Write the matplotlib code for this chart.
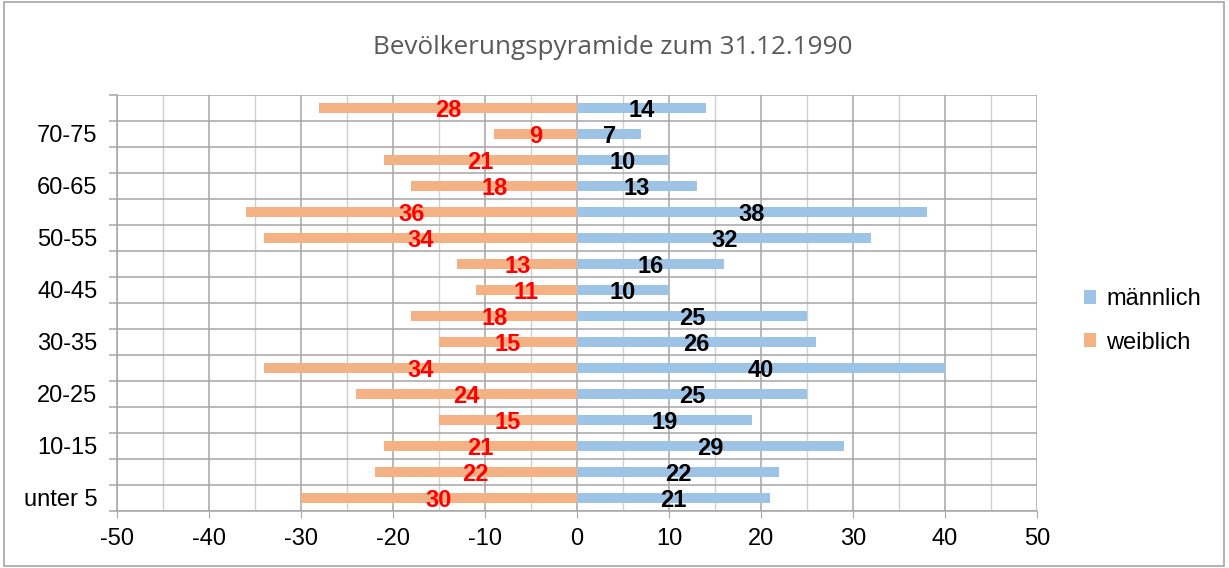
import numpy as np
import matplotlib.pyplot as plt
from matplotlib.patches import Rectangle

plt.rcParams['font.family'] = ['Liberation Sans', 'DejaVu Sans']
plt.rcParams['axes.unicode_minus'] = False

# Daten (von unten nach oben)
altersgruppen = ['unter 5', '5-10', '10-15', '15-20', '20-25', '25-30', '30-35', '35-40',
                 '40-45', '45-50', '50-55', '55-60', '60-65', '65-70', '70-75', '75 und älter']
maennlich = [21, 22, 29, 19, 25, 40, 26, 25, 10, 16, 32, 38, 13, 10, 7, 14]
weiblich = [30, 22, 21, 15, 24, 34, 15, 18, 11, 13, 34, 36, 18, 21, 9, 28]

blau = '#9DC3E6'
orange = '#F4B183'

fig = plt.figure(figsize=(12.29, 5.68), dpi=100)
ax = fig.add_axes([117 / 1229, 1 - 511 / 568, 920 / 1229, 416 / 568])

y = np.arange(len(altersgruppen))
w = -np.array(weiblich)
ax.barh(y, maennlich, height=0.4, color=blau, label='männlich', zorder=3)
ax.barh(y, w, height=0.4, color=orange, label='weiblich', zorder=3)

# Datenbeschriftungen in der Mitte der Balken
for i in range(len(y)):
    ax.text(maennlich[i] / 2, y[i] - 0.1, str(maennlich[i]), ha='center', va='center',
            fontsize=17, fontweight='bold', color='black', zorder=4)
    ax.text(w[i] / 2, y[i] - 0.1, str(weiblich[i]), ha='center', va='center',
            fontsize=17, fontweight='bold', color='red', zorder=4)

ax.set_xlim(-50, 50)
ax.set_ylim(-0.5, len(altersgruppen) - 0.5)

ax.set_xticks(np.arange(-50, 51, 10))
ax.set_xticks(np.arange(-45, 50, 10), minor=True)
ax.set_yticks(y[::2])
ax.set_yticklabels(altersgruppen[::2])
ax.set_yticks(np.arange(-0.5, len(altersgruppen), 1), minor=True)

ax.grid(True, which='major', axis='x', color='#a6a6a6', lw=1.1, zorder=0)
ax.grid(True, which='minor', axis='x', color='#d0d0d0', lw=1.0, zorder=0)
ax.grid(True, which='minor', axis='y', color='#a6a6a6', lw=1.1, zorder=0)

ax.tick_params(axis='x', which='major', length=5, color='#a6a6a6', labelsize=17, pad=7)
ax.tick_params(axis='x', which='minor', length=0)
ax.tick_params(axis='y', which='major', length=0, labelsize=17, pad=14)
ax.tick_params(axis='y', which='minor', length=6, color='#a6a6a6', width=1.1)

for s in ['top', 'right']:
    ax.spines[s].set_visible(False)
ax.spines['left'].set_color('#a6a6a6')
ax.spines['bottom'].set_color('#a6a6a6')
ax.spines['left'].set_linewidth(1.1)
ax.spines['bottom'].set_linewidth(1.1)

fig.text(613 / 1229, 1 - 48 / 568, 'Bevölkerungspyramide zum 31.12.1990', ha='center', va='center',
         fontsize=18.8, color='#595959', family=['Open Sans', 'DejaVu Sans'])

ax.legend(loc='center left', bbox_to_anchor=(1.028, 0.457), frameon=False, fontsize=17,
          handlelength=0.5, handleheight=0.5, handletextpad=0.45, labelspacing=0.9)

fig.patches.append(Rectangle((4 / 1229, 2 / 568), 1220 / 1229, 564 / 568, transform=fig.transFigure,
                             fill=False, edgecolor='#a6a6a6', lw=1.2))

plt.savefig('out.png', dpi=100)
